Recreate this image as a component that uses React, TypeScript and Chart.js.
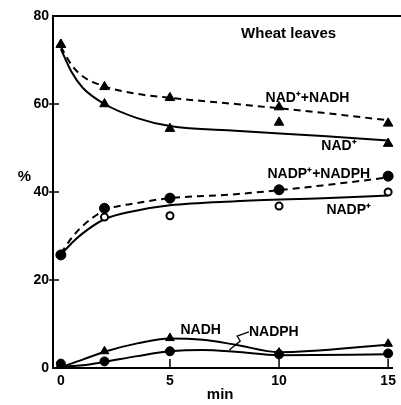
import React, { useEffect, useRef } from "react";
import { Chart, registerables } from "chart.js";

Chart.register(...registerables);

// Measured sample times (min)
const sampleTimes = [0, 2, 5, 10, 15];
// Percent values of each pool at the sample times
const nadTotal = [73.5, 63.9, 61.4, 59.3, 55.6];
const nadOx = [73.5, 60.0, 54.4, 55.8, 51.0];
const nadpTotal = [25.7, 36.3, 38.6, 40.5, 43.6];
const nadpOx = [25.7, 34.3, 34.6, 36.8, 40.0];
const nadh = [0.8, 3.8, 6.8, 3.5, 5.5];
const nadph = [1.0, 1.5, 3.8, 3.1, 3.3];

// Hand-drawn fitted curves
const fitTimes = [0, 0.5, 1, 2, 3.5, 5, 8, 12, 15];
const nadTotalFit = [73.0, 68.8, 66.3, 64.0, 62.3, 61.4, 60.0, 58.0, 56.3];
const nadOxFit = [72.5, 67.2, 63.7, 60.0, 56.8, 55.0, 53.9, 52.7, 51.7];
const nadpTotalFit = [26.0, 29.6, 32.3, 35.8, 37.5, 38.6, 39.5, 41.5, 43.3];
const nadpOxFit = [25.7, 28.4, 30.6, 33.8, 35.8, 37.0, 37.9, 38.6, 39.2];
const lowFitTimes = [0, 1, 2, 3.5, 5, 6.5, 8, 10, 15];
const nadhFit = [0.2, 1.9, 3.7, 5.6, 6.7, 6.4, 5.3, 3.6, 5.3];
const nadphFit = [0.3, 0.6, 1.4, 2.7, 3.8, 4.1, 3.7, 2.9, 3.1];

const yTicks = [0, 20, 40, 60, 80];
const xTicks = [0, 5, 10, 15];

const annotations = [
  { text: "Wheat leaves", t: 8.26, v: 75.9 },
  { text: "NAD\u207A+NADH", t: 9.38, v: 61.4 },
  { text: "NAD\u207A", t: 11.94, v: 50.5 },
  { text: "NADP\u207A+NADPH", t: 9.47, v: 44.1 },
  { text: "NADP\u207A", t: 12.17, v: 35.9 },
  { text: "NADH", t: 5.48, v: 8.6 },
  { text: "NADPH", t: 8.62, v: 8.2 },
  { text: "%", t: -1.98, v: 43.4 },
  { text: "min", t: 6.69, v: -6.1 },
];
const squiggle = [
  { t: 8.62, v: 8.2 },
  { t: 8.08, v: 7.27 },
  { t: 8.22, v: 6.14 },
  { t: 7.72, v: 4.1 },
];

const pts = (xs: number[], ys: number[]) => xs.map((x, i) => ({ x, y: ys[i] }));

const FONT = "'Liberation Sans', Arial, sans-serif";

const decor = {
  id: "decor",
  afterDraw(chart: any) {
    const { ctx, chartArea, scales } = chart;
    const xs = scales.x;
    const ys = scales.y;
    ctx.save();
    ctx.strokeStyle = "#000";
    ctx.lineWidth = 2;
    // top frame
    ctx.beginPath();
    ctx.moveTo(chartArea.left - 1, chartArea.top);
    ctx.lineTo(chart.width, chartArea.top);
    ctx.stroke();
    // y tick marks crossing the axis
    ctx.lineWidth = 1.5;
    for (const v of [20, 40, 60]) {
      const py = ys.getPixelForValue(v);
      ctx.beginPath();
      ctx.moveTo(chartArea.left - 4, py);
      ctx.lineTo(chartArea.left + 6, py);
      ctx.stroke();
    }
    // x tick marks inside
    for (const t of [5, 10, 15]) {
      const px = xs.getPixelForValue(t);
      ctx.beginPath();
      ctx.moveTo(px, chartArea.bottom);
      ctx.lineTo(px, chartArea.bottom - 9);
      ctx.stroke();
    }
    // text
    ctx.fillStyle = "#000";
    ctx.textBaseline = "middle";
    ctx.textAlign = "left";
    for (const a of annotations) {
      const big = a.text === "Wheat leaves" || a.text === "%" || a.text === "min";
      ctx.font = `bold ${big ? 15 : 14}px ${FONT}`;
      ctx.fillText(a.text, xs.getPixelForValue(a.t), ys.getPixelForValue(a.v));
    }
    // leader squiggle
    ctx.lineWidth = 1.3;
    ctx.beginPath();
    squiggle.forEach((p, i) => {
      const px = xs.getPixelForValue(p.t);
      const py = ys.getPixelForValue(p.v);
      if (i === 0) ctx.moveTo(px, py);
      else ctx.lineTo(px, py);
    });
    ctx.stroke();
    ctx.restore();
  },
};

export default function App() {
  const ref = useRef<HTMLCanvasElement>(null);
  useEffect(() => {
    document.body.style.margin = "0";
    const canvas = ref.current!;
    const curve = (data: number[], xs: number[], dashed: boolean) => ({
      type: "line" as const,
      data: pts(xs, data),
      borderColor: "#000",
      borderWidth: 2,
      borderDash: dashed ? [7, 5] : [],
      pointRadius: 0,
      showLine: true,
      fill: false,
      cubicInterpolationMode: "monotone" as const,
      clip: false as any,
    });
    const marks = (data: number[], style: string, radius: number, filled: boolean) => ({
      type: "scatter" as const,
      data: pts(sampleTimes, data),
      pointStyle: style,
      pointRadius: radius,
      pointBackgroundColor: filled ? "#000" : "#fff",
      pointBorderColor: "#000",
      pointBorderWidth: filled ? 1 : 2,
      showLine: false,
      clip: false as any,
    });
    const chart = new Chart(canvas, {
      type: "scatter",
      data: {
        datasets: [
          marks(nadTotal, "triangle", 5.5, true),
          marks(nadOx, "triangle", 5.5, true),
          marks(nadpTotal, "circle", 5, true),
          marks(nadpOx, "circle", 3.5, false),
          marks(nadh, "triangle", 5, true),
          marks(nadph, "circle", 4.5, true),
          curve(nadTotalFit, fitTimes, true),
          curve(nadOxFit, fitTimes, false),
          curve(nadpTotalFit, fitTimes, true),
          curve(nadpOxFit, fitTimes, false),
          curve(nadhFit, lowFitTimes, false),
          curve(nadphFit, lowFitTimes, false),
        ] as any,
      },
      options: {
        animation: false,
        responsive: false,
        devicePixelRatio: 1,
        layout: { padding: { top: 16, right: 2, left: 0, bottom: 0 } },
        plugins: { legend: { display: false }, tooltip: { enabled: false } },
        scales: {
          x: {
            type: "linear",
            min: -0.36,
            max: 15.18,
            afterBuildTicks: (s: any) => {
              s.ticks = xTicks.map((v) => ({ value: v }));
            },
            afterFit: (s: any) => {
              s.height = 37;
            },
            grid: { display: false, drawTicks: false },
            border: { display: true, color: "#000", width: 2 },
            ticks: {
              color: "#000",
              padding: 5,
              maxRotation: 0,
              font: { family: FONT, size: 14, weight: "bold" },
            },
          },
          y: {
            type: "linear",
            min: 0,
            max: 80,
            afterBuildTicks: (s: any) => {
              s.ticks = yTicks.map((v) => ({ value: v }));
            },
            afterFit: (s: any) => {
              s.width = 53;
            },
            grid: { display: false, drawTicks: false },
            border: { display: true, color: "#000", width: 2 },
            ticks: {
              color: "#000",
              padding: 4,
              font: { family: FONT, size: 14, weight: "bold" },
            },
          },
        },
      } as any,
      plugins: [decor],
    });
    return () => chart.destroy();
  }, []);
  return <canvas ref={ref} width={401} height={405} style={{ display: "block" }} />;
}
